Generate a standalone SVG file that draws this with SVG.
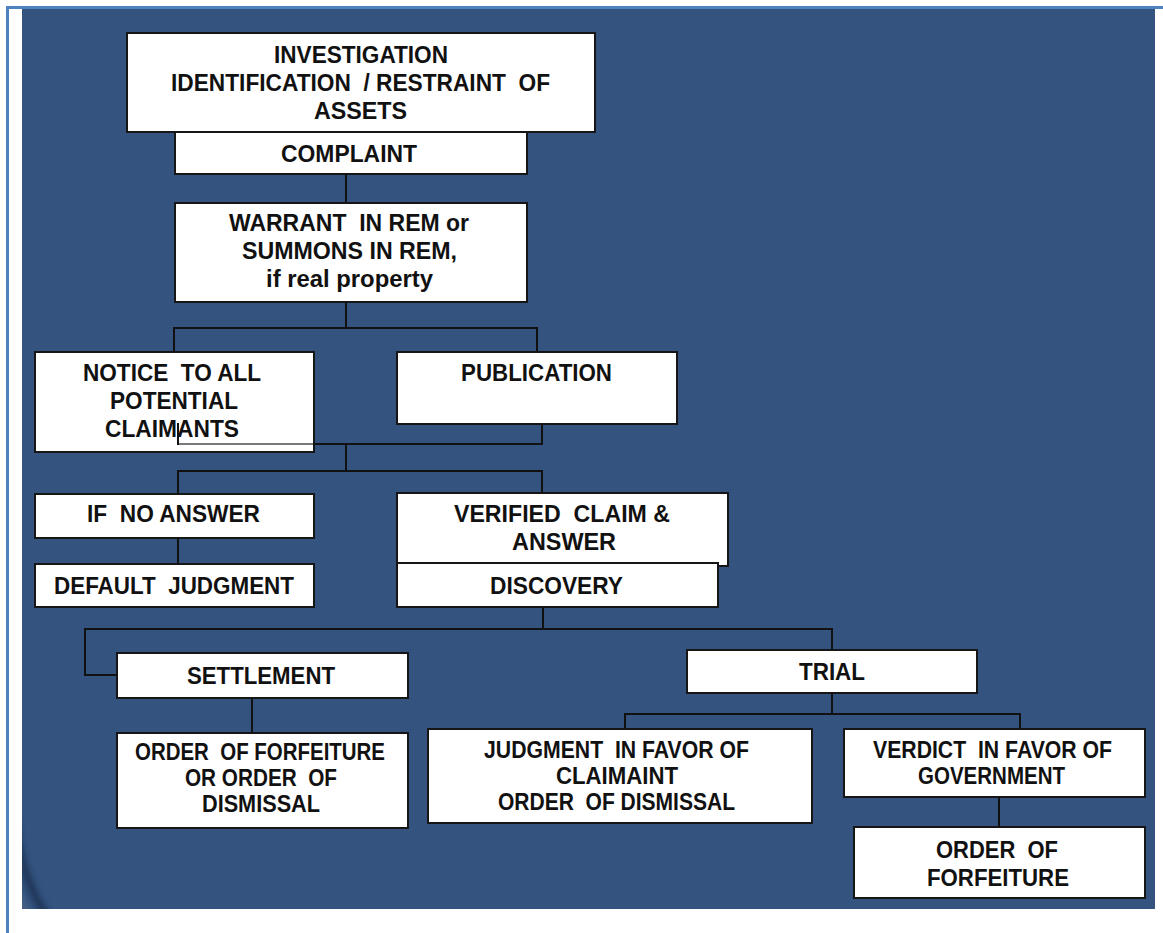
<svg xmlns="http://www.w3.org/2000/svg" width="1163" height="933" viewBox="0 0 1163 933">
  <defs>
    <style>
      .box { fill: #ffffff; stroke: #161616; stroke-width: 2; }
      .wire { fill: none; stroke: #111111; stroke-width: 2; stroke-linecap: square; }
      .wire-faint { fill: none; stroke: #7a7a7a; stroke-width: 2; }
      .t { font-family: "Liberation Sans", Arial, sans-serif; font-weight: bold; font-size: 24px; fill: #111111; white-space: pre; }
    </style>
    <clipPath id="panelClip">
      <rect x="22" y="9" width="1133" height="900"/>
    </clipPath>
    <filter id="soft" x="-50%" y="-50%" width="200%" height="200%">
      <feGaussianBlur stdDeviation="3"/>
    </filter>
  </defs>

  <!-- page -->
  <rect x="0" y="0" width="1163" height="933" fill="#ffffff"/>
  <rect x="6" y="6" width="1157" height="3" fill="#4f81bd"/>
  <rect x="6" y="6" width="3" height="927" fill="#4f81bd"/>

  <!-- slide panel -->
  <rect x="22" y="9" width="1133" height="900" fill="#34547f"/>
  <g clip-path="url(#panelClip)">
    <path d="M 14 820 Q 22 880 48 918" fill="none" stroke="#1c3152" stroke-width="7" filter="url(#soft)"/>
    <path d="M 10 850 Q 16 895 34 918 L 10 918 Z" fill="#5a6b86" opacity="0.6" filter="url(#soft)"/>
  </g>

  <!-- connectors -->
  <g id="connectors">
    <path class="wire" d="M346 174 V203"/>
    <path class="wire" d="M346 302 V328 M174 352 V328 H537 V352"/>
    <path class="wire" d="M542 424 V444 H314"/>
    <path class="wire" d="M346 444 V471 M178 494 V471 H542 V493"/>
    <path class="wire" d="M178 538 V564"/>
    <path class="wire" d="M543 607 V629 M117 675 H85 V629 H832 V650"/>
    <path class="wire" d="M252 698 V733"/>
    <path class="wire" d="M832 693 V714 M625 729 V714 H1020 V729"/>
    <path class="wire" d="M999 797 V827"/>
  </g>

  <g id="investigation">
    <rect class="box" x="127" y="33" width="468" height="99"/>
    <text class="t" x="274" y="63" textLength="174" lengthAdjust="spacingAndGlyphs">INVESTIGATION</text>
    <text class="t" x="171" y="91" textLength="379" lengthAdjust="spacingAndGlyphs">IDENTIFICATION  / RESTRAINT  OF</text>
    <text class="t" x="314" y="119" textLength="93" lengthAdjust="spacingAndGlyphs">ASSETS</text>
  </g>

  <g id="complaint">
    <rect class="box" x="175" y="132" width="352" height="42"/>
    <text class="t" x="281" y="162" textLength="136" lengthAdjust="spacingAndGlyphs">COMPLAINT</text>
  </g>

  <g id="warrant">
    <rect class="box" x="175" y="203" width="352" height="99"/>
    <text class="t" x="229" y="231" textLength="240" lengthAdjust="spacingAndGlyphs">WARRANT  IN REM or</text>
    <text class="t" x="242" y="259" textLength="215" lengthAdjust="spacingAndGlyphs">SUMMONS IN REM,</text>
    <text class="t" x="266" y="287" textLength="167" lengthAdjust="spacingAndGlyphs">if real property</text>
  </g>

  <g id="notice">
    <rect class="box" x="35" y="352" width="279" height="100"/>
    <text class="t" x="83" y="381" textLength="178" lengthAdjust="spacingAndGlyphs">NOTICE  TO ALL</text>
    <text class="t" x="110" y="409" textLength="128" lengthAdjust="spacingAndGlyphs">POTENTIAL</text>
    <text class="t" x="105" y="437" textLength="134" lengthAdjust="spacingAndGlyphs">CLAIMANTS</text>
  </g>

  <g id="publication">
    <rect class="box" x="397" y="352" width="280" height="72"/>
    <text class="t" x="461" y="381" textLength="151" lengthAdjust="spacingAndGlyphs">PUBLICATION</text>
  </g>

  <!-- end of the publication return line, running across the notice box -->
  <g id="connector-overlap">
    <path class="wire-faint" d="M313 444 H178"/>
    <path class="wire" d="M178 444 V424"/>
  </g>

  <g id="if-no-answer">
    <rect class="box" x="35" y="494" width="279" height="44"/>
    <text class="t" x="87" y="522" textLength="173" lengthAdjust="spacingAndGlyphs">IF  NO ANSWER</text>
  </g>

  <g id="default-judgment">
    <rect class="box" x="35" y="564" width="279" height="43"/>
    <text class="t" x="54" y="594" textLength="240" lengthAdjust="spacingAndGlyphs">DEFAULT  JUDGMENT</text>
  </g>

  <g id="verified-claim">
    <rect class="box" x="397" y="493" width="331" height="73"/>
    <text class="t" x="454" y="522" textLength="216" lengthAdjust="spacingAndGlyphs">VERIFIED  CLAIM &amp;</text>
    <text class="t" x="512" y="550" textLength="104" lengthAdjust="spacingAndGlyphs">ANSWER</text>
  </g>

  <g id="discovery">
    <rect class="box" x="397" y="563" width="321" height="44"/>
    <text class="t" x="490" y="594" textLength="133" lengthAdjust="spacingAndGlyphs">DISCOVERY</text>
  </g>

  <g id="settlement">
    <rect class="box" x="117" y="653" width="291" height="45"/>
    <text class="t" x="187" y="684" textLength="148" lengthAdjust="spacingAndGlyphs">SETTLEMENT</text>
  </g>

  <g id="order-forfeiture-or-dismissal">
    <rect class="box" x="117" y="733" width="291" height="95"/>
    <text class="t" x="135" y="760" textLength="250" lengthAdjust="spacingAndGlyphs">ORDER  OF FORFEITURE</text>
    <text class="t" x="185" y="786" textLength="152" lengthAdjust="spacingAndGlyphs">OR ORDER  OF</text>
    <text class="t" x="202" y="812" textLength="118" lengthAdjust="spacingAndGlyphs">DISMISSAL</text>
  </g>

  <g id="trial">
    <rect class="box" x="687" y="650" width="290" height="43"/>
    <text class="t" x="799" y="680" textLength="66" lengthAdjust="spacingAndGlyphs">TRIAL</text>
  </g>

  <g id="judgment-claimant">
    <rect class="box" x="428" y="729" width="384" height="94"/>
    <text class="t" x="484" y="758" textLength="265" lengthAdjust="spacingAndGlyphs">JUDGMENT  IN FAVOR OF</text>
    <text class="t" x="556" y="784" textLength="122" lengthAdjust="spacingAndGlyphs">CLAIMAINT</text>
    <text class="t" x="498" y="810" textLength="237" lengthAdjust="spacingAndGlyphs">ORDER  OF DISMISSAL</text>
  </g>

  <g id="verdict-government">
    <rect class="box" x="844" y="729" width="301" height="68"/>
    <text class="t" x="873" y="758" textLength="239" lengthAdjust="spacingAndGlyphs">VERDICT  IN FAVOR OF</text>
    <text class="t" x="918" y="784" textLength="147" lengthAdjust="spacingAndGlyphs">GOVERNMENT</text>
  </g>

  <g id="order-forfeiture">
    <rect class="box" x="854" y="827" width="291" height="71"/>
    <text class="t" x="936" y="858" textLength="122" lengthAdjust="spacingAndGlyphs">ORDER  OF</text>
    <text class="t" x="927" y="886" textLength="142" lengthAdjust="spacingAndGlyphs">FORFEITURE</text>
  </g>
</svg>
